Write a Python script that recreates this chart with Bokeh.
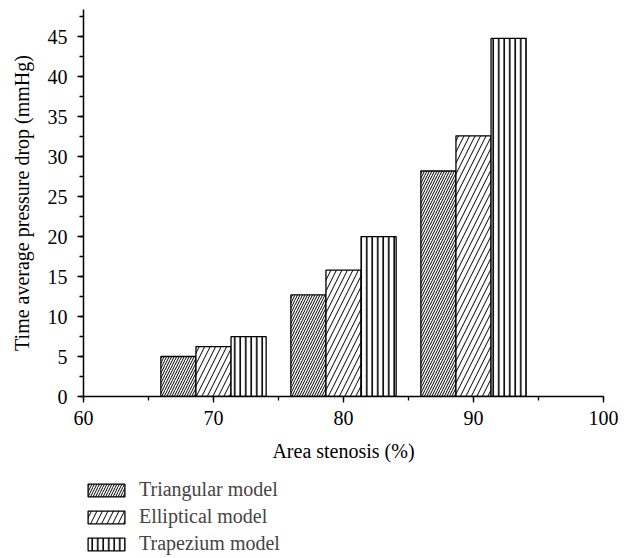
from bokeh.plotting import figure
from bokeh.models import (ColumnDataSource, Range1d, SingleIntervalTicker, Legend, LegendItem)
from bokeh.layouts import column
from bokeh.transform import dodge
from bokeh.embed import file_html
from bokeh.resources import INLINE

stenosis = [70, 80, 90]
triangular = [5.0, 12.7, 28.2]
elliptical = [6.25, 15.8, 32.6]
trapezium = [7.5, 20.0, 44.8]
series_names = ["Triangular model", "Elliptical model", "Trapezium model"]
x_ticks_interval = 10
y_ticks_interval = 5

FONT = "Liberation Serif"
FS = "20px"

src = ColumnDataSource(dict(x=stenosis, tri=triangular, ell=elliptical, trap=trapezium))
cols = ["tri", "ell", "trap"]

p = figure(frame_width=520, frame_height=387, output_backend="svg", toolbar_location=None,
           x_range=Range1d(60, 100), y_range=Range1d(0, 48.4),
           min_border_left=83, min_border_right=28, min_border_top=9, min_border_bottom=79)
p.outline_line_color = None
p.xgrid.visible = False
p.ygrid.visible = False
p.background_fill_color = "white"
p.border_fill_color = "white"

bw = 2.7
offsets = [-bw, 0, bw]
styles = [dict(hatch_pattern="/", hatch_scale=5.0, hatch_weight=1.0),
          dict(hatch_pattern="/", hatch_scale=11, hatch_weight=1.0),
          dict(hatch_pattern="|", hatch_scale=5.5, hatch_weight=1.6)]
base = dict(fill_color="white", line_color="black", line_width=1.3, hatch_color="black")

for c, off, s in zip(cols, offsets, styles):
    p.vbar(x=dodge("x", off, range=p.x_range), top=c, width=bw, bottom=0, source=src,
           **base, **s)

for ax in (p.xaxis[0], p.yaxis[0]):
    ax.axis_line_width = 1.5
    ax.major_tick_line_width = 1.3
    ax.minor_tick_line_width = 1.3
    ax.major_tick_in = 0
    ax.major_tick_out = 6
    ax.minor_tick_in = 0
    ax.minor_tick_out = 4
    ax.major_label_text_font = FONT
    ax.major_label_text_font_size = FS
    ax.major_label_text_color = "black"
    ax.axis_label_text_font = FONT
    ax.axis_label_text_font_size = FS
    ax.axis_label_text_font_style = "normal"
    ax.axis_label_text_color = "black"

p.xaxis[0].ticker = SingleIntervalTicker(interval=x_ticks_interval, num_minor_ticks=2)
p.yaxis[0].ticker = SingleIntervalTicker(interval=y_ticks_interval, num_minor_ticks=2)
p.xaxis[0].axis_label = "Area stenosis (%)"
p.yaxis[0].axis_label = "Time average pressure drop (mmHg)"
p.xaxis[0].major_label_standoff = 8
p.xaxis[0].axis_label_standoff = 12
p.yaxis[0].major_label_standoff = 10
p.yaxis[0].axis_label_standoff = 12

# legend strip below the chart; hidden proxy bars (same data) supply the legend swatches
p2 = figure(width=631, height=83, output_backend="svg", toolbar_location=None,
            x_range=Range1d(60, 100), y_range=Range1d(0, 48.4), min_border=0,
            x_axis_location=None, y_axis_location=None)
p2.outline_line_color = None
p2.xgrid.visible = False
p2.ygrid.visible = False
proxies = [p2.vbar(x="x", top=c, width=bw, bottom=0, source=src, visible=False, **base, **s)
           for c, s in zip(cols, styles)]

legend = Legend(items=[LegendItem(label=n, renderers=[r]) for n, r in zip(series_names, proxies)],
                location=(0, 3), orientation="vertical",
                glyph_width=46, glyph_height=16, spacing=4, padding=0, margin=0,
                label_standoff=10, label_text_font=FONT, label_text_font_size=FS,
                inactive_fill_alpha=0,
                border_line_color=None, background_fill_alpha=0)
p2.add_layout(legend, "center")

layout = column(p, p2, spacing=0)
open("out.html", "w").write(file_html(layout, INLINE))
